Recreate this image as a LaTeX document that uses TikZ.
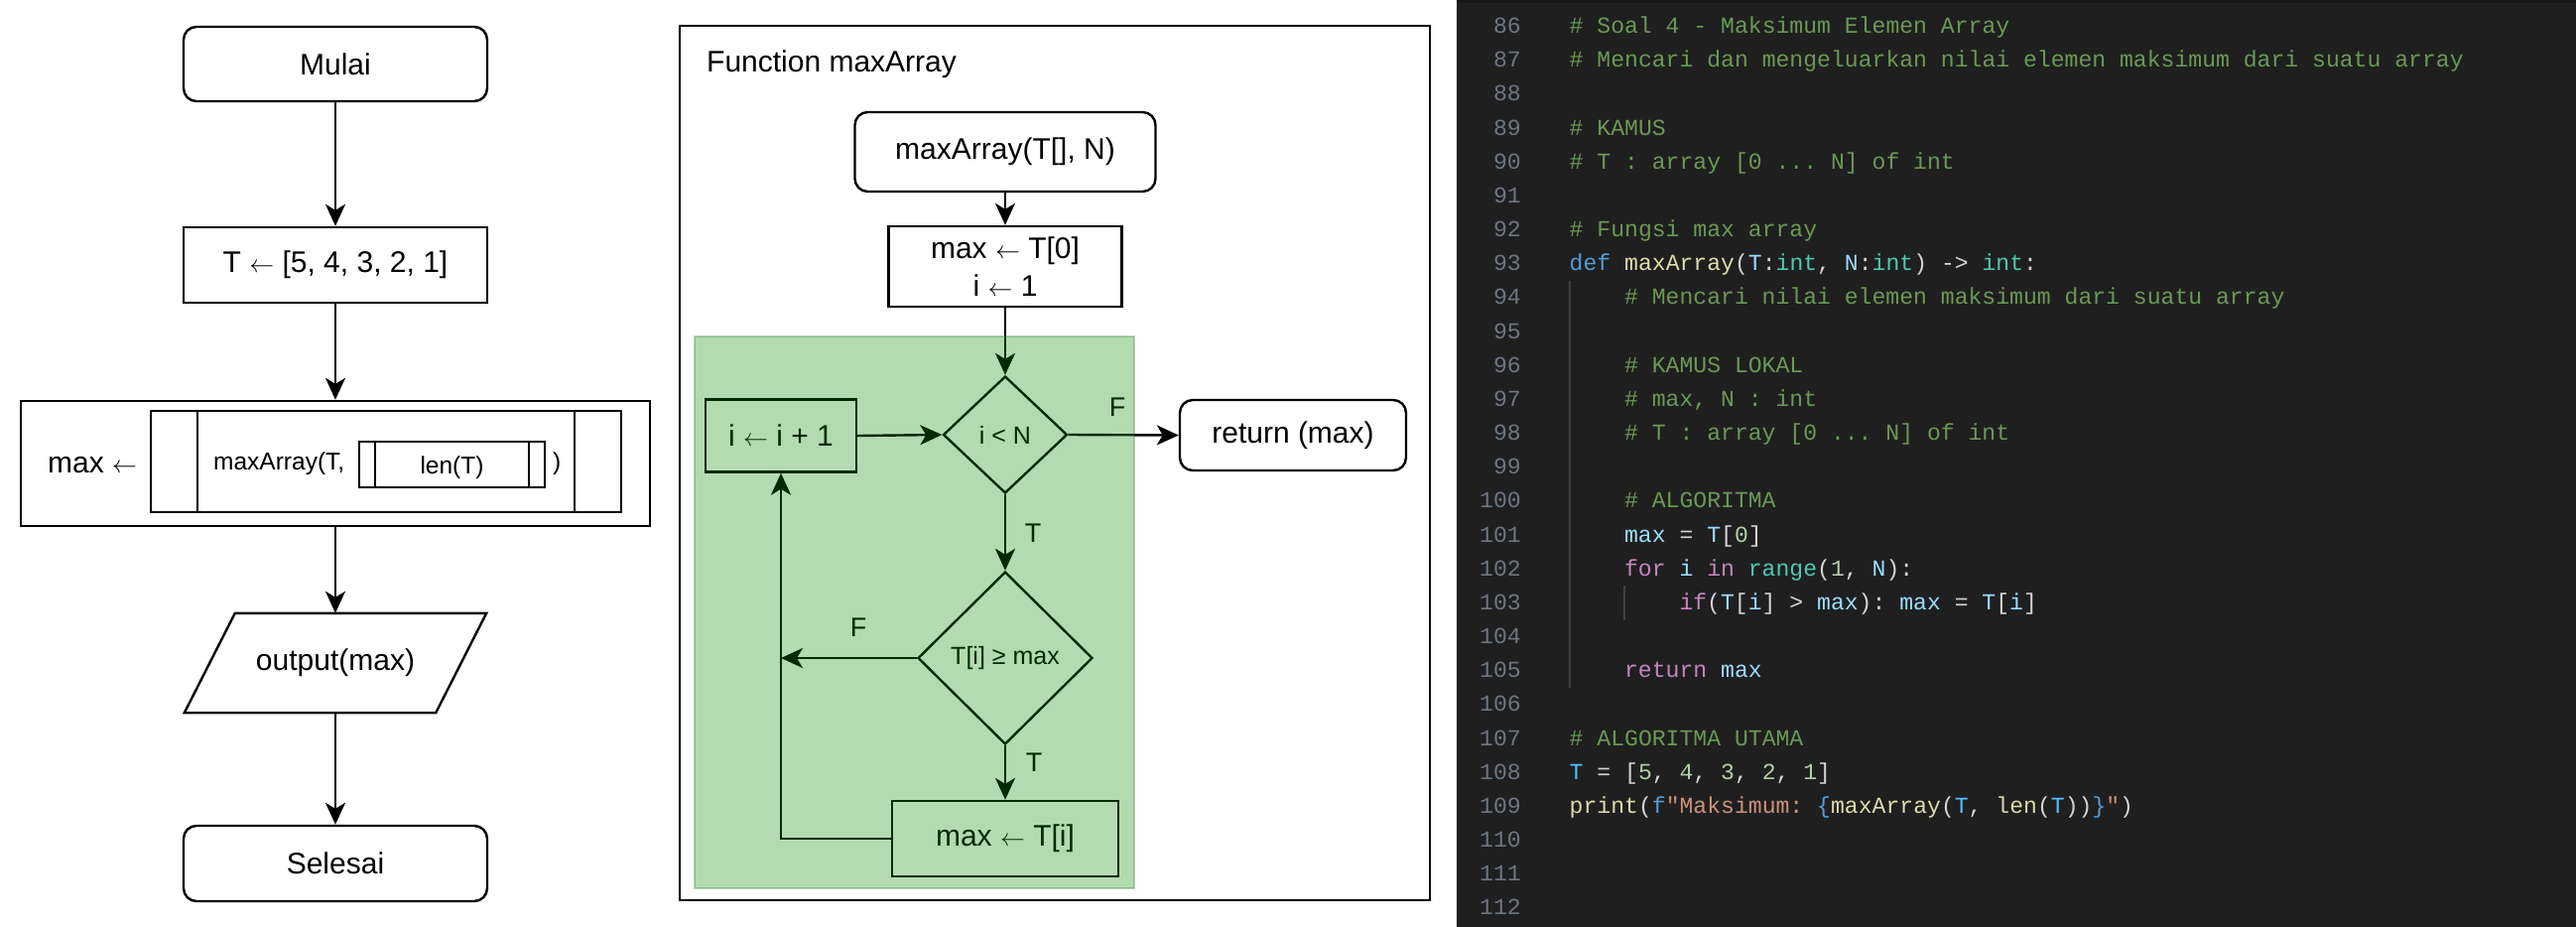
\documentclass[tikz,border=0pt]{standalone}
\usepackage{fontspec}
\setmainfont{Liberation Sans}
\setmonofont{Liberation Mono}
\usetikzlibrary{arrows.meta,shapes.geometric,calc}
\definecolor{codebg}{HTML}{1F1F1F}
\definecolor{codetop}{HTML}{181818}
\definecolor{ccm}{HTML}{6A9955}
\definecolor{ckw}{HTML}{569CD6}
\definecolor{cfn}{HTML}{DCDCAA}
\definecolor{cva}{HTML}{9CDCFE}
\definecolor{cty}{HTML}{4EC9B0}
\definecolor{cpu}{HTML}{D4D4D4}
\definecolor{cnu}{HTML}{B5CEA8}
\definecolor{cct}{HTML}{C586C0}
\definecolor{cst}{HTML}{CE9178}
\definecolor{cco}{HTML}{4FC1FF}
\definecolor{clnum}{HTML}{6E7681}
\definecolor{cguide}{HTML}{404040}
\definecolor{gfill}{HTML}{008A00}
\definecolor{gdraw}{HTML}{1E7A1E}
\newcommand\fA{\fontsize{30}{38}\selectfont}
\newcommand\fB{\fontsize{25}{30}\selectfont}
\newcommand\fS{\fontsize{24.5}{30}\selectfont}
\newcommand\fL{\fontsize{27}{32}\selectfont}
\newcommand\fC{\fontsize{23.1}{34}\selectfont\ttfamily}
\newcommand\la{$\leftarrow$}
\newcommand\zcm[1]{\textcolor{ccm}{#1}}
\newcommand\zkw[1]{\textcolor{ckw}{#1}}
\newcommand\zfn[1]{\textcolor{cfn}{#1}}
\newcommand\zva[1]{\textcolor{cva}{#1}}
\newcommand\zty[1]{\textcolor{cty}{#1}}
\newcommand\zpu[1]{\textcolor{cpu}{#1}}
\newcommand\znu[1]{\textcolor{cnu}{#1}}
\newcommand\zct[1]{\textcolor{cct}{#1}}
\newcommand\zst[1]{\textcolor{cst}{#1}}
\newcommand\zco[1]{\textcolor{cco}{#1}}
\tikzset{
  base/.style={draw=black, line width=2.4pt, fill=white, inner sep=0pt, font=\fA, text=black},
  proc/.style={base, rectangle},
  term/.style={base, rectangle, rounded corners=13pt},
  dec/.style={base, diamond, font=\fB},
  arr/.style={line width=2.4pt, -{Stealth[length=22pt,width=20pt,inset=6pt]}},
  ln/.style={line width=2.4pt},
  lab/.style={font=\fL, inner sep=0pt},
  code/.style={anchor=base west, inner sep=0pt, font=\fC},
  lnum/.style={anchor=base east, inner sep=0pt, font=\fC, text=clnum},
  guide/.style={draw=cguide, line width=1.5pt}
}
\begin{document}
\begin{tikzpicture}[x=1pt,y=-1pt]
\useasboundingbox (0,0) rectangle (2596,934);
\fill[white] (0,0) rectangle (2596,934);

% ---------- left flowchart ----------
\node[term, minimum width=306pt, minimum height=75pt] (mulai) at (338,64.5) {Mulai};
\node[proc, minimum width=306pt, minimum height=76pt] (tset) at (338,267) {T \la{} [5, 4, 3, 2, 1]};
\node[proc, minimum width=634pt, minimum height=126pt] (call) at (338,467) {};
\node[proc, minimum width=474pt, minimum height=102pt] (sub) at (389,465) {};
\draw[ln] ([xshift=48pt]sub.north west) -- ([xshift=48pt]sub.south west);
\draw[ln] ([xshift=-48pt]sub.north east) -- ([xshift=-48pt]sub.south east);
\node[proc, minimum width=187pt, minimum height=46pt] (lenb) at (455.5,468) {};
\draw[ln] ([xshift=17pt]lenb.north west) -- ([xshift=17pt]lenb.south west);
\draw[ln] ([xshift=-17pt]lenb.north east) -- ([xshift=-17pt]lenb.south east);
\node[anchor=base west, font=\fA, inner sep=0pt] (maxl) at (48,476) {max \la};
\node[anchor=base west, font=\fS, inner sep=0pt] (mcall) at (215,473) {maxArray(T,};
\node[anchor=base, font=\fS, inner sep=0pt] (lent) at (455.5,477) {len(T)};
\node[anchor=base west, font=\fS, inner sep=0pt] (rp) at (557,473) {)};
\node[minimum width=304pt, minimum height=100pt, inner sep=0pt, font=\fA] (outp) at (338,668) {output(max)};
\draw[ln, line join=miter] ([xshift=51pt]outp.north west) -- (outp.north east) -- ([xshift=-51pt]outp.south east) -- (outp.south west) -- cycle;
\node[term, minimum width=306pt, minimum height=76pt] (sel) at (338,870) {Selesai};

\draw[arr] (mulai.south) -- (tset.north);
\draw[arr] (tset.south) -- (call.north);
\draw[arr] (call.south) -- (outp.north);
\draw[arr] (outp.south) -- (sel.north);

% ---------- middle: function maxArray ----------
\node[draw=black, line width=2.4pt, minimum width=756pt, minimum height=881pt, inner sep=0pt] (frame) at (1063,466.5) {};
\node[anchor=base west, font=\fA, inner sep=0pt] (title) at (712,72.7) {Function maxArray};
\node[term, minimum width=303pt, minimum height=80pt] (ms) at (1013,153) {maxArray(T[], N)};
\node[proc, minimum width=235pt, minimum height=81pt, align=center] (init) at (1013,268.5) {max \la{} T[0]\\i \la{} 1};
\node[dec, minimum width=125pt, minimum height=118pt] (d1) at (1013,438) {i < N};
\node[proc, minimum width=152pt, minimum height=73pt] (inc) at (787,439) {i \la{} i + 1};
\node[term, minimum width=228pt, minimum height=71pt] (ret) at (1303,438.5) {return (max)};
\node[dec, minimum width=176pt, minimum height=174pt] (d2) at (1013,663) {T[i] ≥ max};
\node[proc, minimum width=228pt, minimum height=76pt] (upd) at (1013,845) {max \la{} T[i]};

\draw[arr] (ms.south) -- (init.north);
\draw[arr] (init.south) -- (d1.north);
\draw[arr] (d1.south) -- (d2.north);
\draw[arr] (d2.south) -- (upd.north);
\draw[arr] (d1.east) -- (ret.west);
\draw[arr] (inc.east) -- (d1.west);
\draw[arr] (d2.west) -- (d2.west -| inc.south);
\draw[arr] (upd.west) -| (inc.south);
\node[lab] (lf1) at (1126,410) {F};
\node[lab] (lt1) at (1041,537) {T};
\node[lab] (lf2) at (865,632) {F};
\node[lab] (lt2) at (1042,768) {T};

\node[fill=gfill, fill opacity=0.3, draw=gdraw, draw opacity=0.3, line width=2pt, minimum width=443pt, minimum height=556pt, inner sep=0pt] (loop) at (921.5,617) {};

% ---------- right: code editor ----------
\fill[codebg] (1468,0) rectangle (2596,934);
\fill[codetop] (1468,0) rectangle (2596,3);
\foreach \n in {86,...,112} {
  \node[lnum] (n\n) at (1533,{33.5+(\n-86)*34.17}) {\n};
}
\draw[guide] (1582,282.8) -- (1582,692.8);
\draw[guide] (1637,590.3) -- (1637,624.5);
\node[code] (c86) at (1581.5,33.5) {\zcm{\# Soal 4 - Maksimum Elemen Array}};
\node[code] (c87) at (1581.5,67.67) {\zcm{\# Mencari dan mengeluarkan nilai elemen maksimum dari suatu array}};
\node[code] (c89) at (1581.5,136.01) {\zcm{\# KAMUS}};
\node[code] (c90) at (1581.5,170.18) {\zcm{\# T : array [0 ... N] of int}};
\node[code] (c92) at (1581.5,238.52) {\zcm{\# Fungsi max array}};
\node[code] (c93) at (1581.5,272.69) {\zkw{def} \zfn{maxArray}\zpu{(}\zva{T}\zpu{:}\zty{int}\zpu{,} \zva{N}\zpu{:}\zty{int}\zpu{)} \zpu{->} \zty{int}\zpu{:}};
\node[code] (c94) at (1636.9,306.86) {\zcm{\# Mencari nilai elemen maksimum dari suatu array}};
\node[code] (c96) at (1636.9,375.2) {\zcm{\# KAMUS LOKAL}};
\node[code] (c97) at (1636.9,409.37) {\zcm{\# max, N : int}};
\node[code] (c98) at (1636.9,443.54) {\zcm{\# T : array [0 ... N] of int}};
\node[code] (c100) at (1636.9,511.88) {\zcm{\# ALGORITMA}};
\node[code] (c101) at (1636.9,546.05) {\zva{max} \zpu{=} \zva{T}\zpu{[}\znu{0}\zpu{]}};
\node[code] (c102) at (1636.9,580.22) {\zct{for} \zva{i} \zct{in} \zty{range}\zpu{(}\znu{1}\zpu{,} \zva{N}\zpu{):}};
\node[code] (c103) at (1692.3,614.39) {\zct{if}\zpu{(}\zva{T}\zpu{[}\zva{i}\zpu{]} \zpu{>} \zva{max}\zpu{):} \zva{max} \zpu{=} \zva{T}\zpu{[}\zva{i}\zpu{]}};
\node[code] (c105) at (1636.9,682.73) {\zct{return} \zva{max}};
\node[code] (c107) at (1581.5,751.07) {\zcm{\# ALGORITMA UTAMA}};
\node[code] (c108) at (1581.5,785.24) {\zco{T} \zpu{=} \zpu{[}\znu{5}\zpu{,} \znu{4}\zpu{,} \znu{3}\zpu{,} \znu{2}\zpu{,} \znu{1}\zpu{]}};
\node[code] (c109) at (1581.5,819.41) {\zfn{print}\zpu{(}\zkw{f}\zst{"Maksimum: }\zkw{\{}\zfn{maxArray}\zpu{(}\zco{T}\zpu{,} \zfn{len}\zpu{(}\zco{T}\zpu{))}\zkw{\}}\zst{"}\zpu{)}};
\end{tikzpicture}
\end{document}
